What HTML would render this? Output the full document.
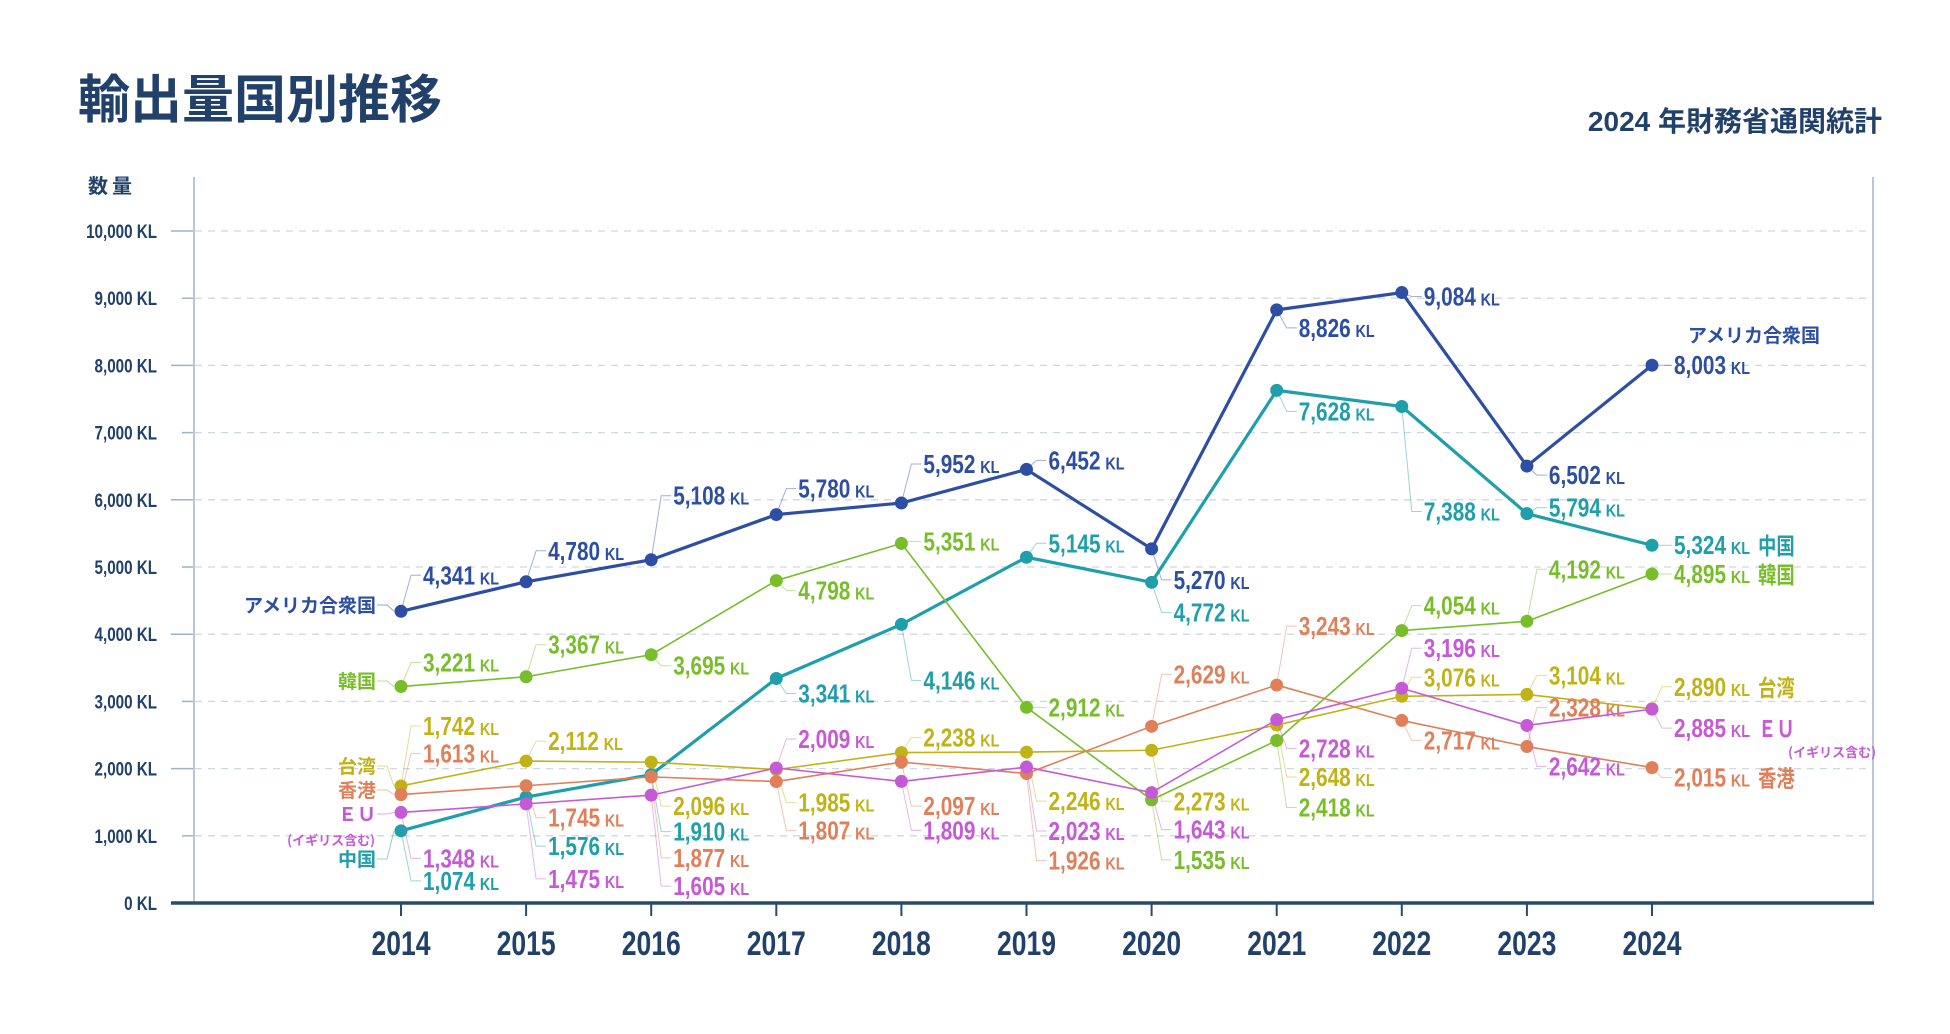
<!DOCTYPE html>
<html><head><meta charset="utf-8">
<style>
html,body{margin:0;padding:0;background:#fff;}
body{width:1950px;height:1029px;overflow:hidden;position:relative;font-family:"Liberation Sans","Noto Sans CJK JP",sans-serif;}
svg text{font-family:"Liberation Sans","Noto Sans CJK JP",sans-serif;}
</style></head><body>
<svg id="chart" width="1950" height="1029" xmlns="http://www.w3.org/2000/svg">
<text x="78" y="118" font-size="52" font-weight="bold" fill="#22416a" style="font-family:'Noto Sans CJK JP',sans-serif">輸出量国別推移</text>
<text x="1882" y="131" text-anchor="end" font-size="28" font-weight="bold" fill="#22416a" style="font-family:'Liberation Sans','Noto Sans CJK JP',sans-serif">2024 年財務省通関統計</text>
<text x="88" y="193" font-size="20" font-weight="bold" fill="#22416a" letter-spacing="4" style="font-family:'Noto Sans CJK JP',sans-serif">数量</text>
<g id="grid"></g><g id="marks"></g>
</svg>
<script>
const years=[2014,2015,2016,2017,2018,2019,2020,2021,2022,2023,2024];
const yTicks=[0,1000,2000,3000,4000,5000,6000,7000,8000,9000,10000];
const usa=[4341,4780,5108,5780,5952,6452,5270,8826,9084,6502,8003];
const china=[1074,1576,1910,3341,4146,5145,4772,7628,7388,5794,5324];
const korea=[3221,3367,3695,4798,5351,2912,1535,2418,4054,4192,4895];
const taiwan=[1742,2112,2096,1985,2238,2246,2273,2648,3076,3104,2890];
const hk=[1613,1745,1877,1807,2097,1926,2629,3243,2717,2328,2015];
const eu=[1348,1475,1605,2009,1809,2023,1643,2728,3196,2642,2885];
// label vertical offsets (layout, px)
const offUsa=[-36,-31,-64,-26,-39,-9,31,18,4,9,0];
const offChina=[50,49,57,15,56,-14,30,21,105,-6,0];
const offKorea=[-24,-32,11,10,-2,0,60,67,-25,-52,0];
const offTaiwan=[-60,-20,44,33,-15,49,51,52,-19,-19,-22];
const offHk=[-41,32,81,49,44,87,-52,-59,20,-39,10];
const offEu=[46,75,91,-29,49,64,37,29,-40,41,19];

const NS='http://www.w3.org/2000/svg';
const svg=document.getElementById('chart');
const grid=document.getElementById('grid');
const marks=document.getElementById('marks');
const X0=401,XS=125.1,Y0=903,YK=0.0672;
function xs(i){return X0+i*XS;}
function ys(v){return Y0-v*YK;}
function el(tag,attrs,parent){const e=document.createElementNS(NS,tag);for(const k in attrs)e.setAttribute(k,attrs[k]);parent.appendChild(e);return e;}
function fmt(v){return v.toLocaleString('en-US');}
function cond(x,y,s){return 'translate('+x+','+y+') scale('+s+',1)';}

yTicks.forEach((t,i)=>{
  const y=ys(t);
  if(t>0){const g=el('line',{x1:195,x2:1870,y1:y,y2:y,stroke:'#cfd8e2','stroke-width':1.3,'stroke-dasharray':'7 6'},grid);
  
  }
  const tk=el('line',{x1:t%2000==0?171:182,x2:194,y1:y,y2:y,stroke:'#9fb3c8','stroke-width':1.5},grid);
  
  
  const tx=el('text',{x:0,y:0,'text-anchor':'end','font-size':19,'font-weight':'bold',fill:'#22416a',transform:cond(157,y+7,0.8)},grid);
  tx.textContent=fmt(t)+' KL';
  
  
});
const fl=el('line',{x1:194,x2:194,y1:177,y2:903,stroke:'#b8c7d8','stroke-width':2},grid);


const fr=el('line',{x1:1873,x2:1873,y1:177,y2:903,stroke:'#b8c7d8','stroke-width':2},grid);


const ax=el('line',{x1:171,x2:1874,y1:903,y2:903,stroke:'#2b4a6f','stroke-width':3.5},grid);


years.forEach((yr,i)=>{
  const t=el('line',{x1:xs(i),x2:xs(i),y1:903,y2:916,stroke:'#2b4a6f','stroke-width':2},grid);
  
  
  const tx=el('text',{x:0,y:0,'text-anchor':'middle','font-size':34,'font-weight':'bold',fill:'#22416a',transform:cond(xs(i),955,0.78)},grid);
  tx.textContent=yr;
  
  
});

const series=[
 {key:'usa',vals:usa,off:offUsa,color:'#2e4ea3',w:3.2,name:'アメリカ合衆国',ly:612},
 {key:'china',vals:china,off:offChina,color:'#1f9faa',w:3.2,name:'中国',ly:866},
 {key:'korea',vals:korea,off:offKorea,color:'#77be2a',w:1.6,name:'韓国',ly:688},
 {key:'taiwan',vals:taiwan,off:offTaiwan,color:'#c1b317',w:1.6,name:'台湾',ly:773},
 {key:'hk',vals:hk,off:offHk,color:'#e07f5a',w:1.6,name:'香港',ly:797},
 {key:'eu',vals:eu,off:offEu,color:'#c65ad6',w:1.6,name:'ＥＵ',ly:821}
];
series.forEach(s=>{
  const g=el('g',{},marks);
  
  
  const pts=s.vals.map((v,i)=>xs(i)+','+ys(v)).join(' ');
  const pl=el('polyline',{points:pts,fill:'none',stroke:s.color,'stroke-width':s.w,'stroke-linejoin':'round'},g);
  
  
  const ny=s.ly;
  const ld=el('polyline',{points:(xs(0)-7)+','+ys(s.vals[0])+' '+(xs(0)-14)+','+(ny-7)+' '+(xs(0)-24)+','+(ny-7),fill:'none',stroke:s.color,'stroke-width':1,opacity:0.5},g);
  
  
  const nt=el('text',{x:376,y:ny,'text-anchor':'end','font-size':19,'font-weight':'bold',fill:s.color,style:"font-family:'Noto Sans CJK JP',sans-serif"},g);
  nt.textContent=s.name;
  
  
  s.vals.forEach((v,i)=>{
    const px=xs(i),py=ys(v),ly=py+s.off[i];
    const ll=el('polyline',{points:px+','+py+' '+(px+10)+','+ly+' '+(px+20)+','+ly,fill:'none',stroke:s.color,'stroke-width':1,opacity:0.45},g);
    
    
    const c=el('circle',{cx:px,cy:py,r:6.5,fill:s.color},g);
    
    
    const t=el('text',{x:0,y:0,'font-size':26,'font-weight':'bold',fill:s.color,transform:cond(px+22,ly+9,0.8)},g);
    
    
    const a=el('tspan',{},t);a.textContent=fmt(v);
    const b=el('tspan',{'font-size':18,dx:6},t);b.textContent='KL';
    if(i===10&&s.key!=='usa'){const n=el('tspan',{'font-size':23,dx:10,style:"font-family:'Noto Sans CJK JP',sans-serif"},t);n.textContent=s.name;}
  });
});
const e1=el('text',{x:375,y:845,'text-anchor':'end','font-size':13,'font-weight':'bold',fill:'#c65ad6',style:"font-family:'Noto Sans CJK JP',sans-serif"},marks);
e1.textContent='(イギリス含む)';


const e2=el('text',{x:1876,y:757,'text-anchor':'end','font-size':13,'font-weight':'bold',fill:'#c65ad6',style:"font-family:'Noto Sans CJK JP',sans-serif"},marks);
e2.textContent='(イギリス含む)';


const e3=el('text',{x:1688,y:342,'font-size':19,'font-weight':'bold',fill:'#2e4ea3',style:"font-family:'Noto Sans CJK JP',sans-serif"},marks);
e3.textContent='アメリカ合衆国';


</script>
</body></html>
